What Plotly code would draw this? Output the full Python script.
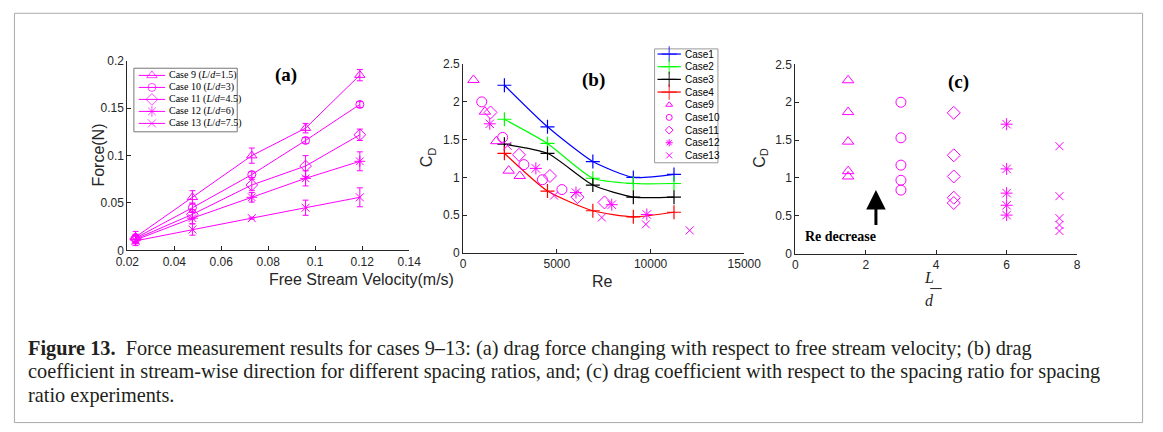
import plotly.graph_objects as go

W, H = 1163, 432
def px(x): return x / W
def py(y): return 1 - y / H

MAG = "#FF00FF"
AX = "#262626"
SANS = "Liberation Sans"
SERIF = "Liberation Serif"

# ---------------- data: panel (a) ----------------
velocity = [0.0235, 0.0477, 0.073, 0.0959, 0.119]
force9 = [0.014, 0.056, 0.100, 0.129, 0.185]
force10 = [0.013, 0.045, 0.080, 0.116, 0.154]
force11 = [0.012, 0.038, 0.069, 0.089, 0.122]
force12 = [0.011, 0.034, 0.056, 0.076, 0.094]
force13 = [0.010, 0.022, 0.034, 0.045, 0.056]
err9 = [0.006, 0.007, 0.008, 0.005, 0.006]
err10 = [0.004, 0.005, 0.003, 0.003, 0.003]
err11 = [0.004, 0.005, 0.006, 0.011, 0.006]
err12 = [0.004, 0.006, 0.005, 0.008, 0.010]
err13 = [0.005, 0.006, 0.001, 0.008, 0.010]
legend_a = ["Case 9 (<i>L</i>/<i>d</i>=1.5)", "Case 10 (<i>L</i>/<i>d</i>=3)",
            "Case 11 (<i>L</i>/<i>d</i>=4.5)", "Case 12 (<i>L</i>/<i>d</i>=6)",
            "Case 13 (<i>L</i>/<i>d</i>=7.5)"]

# ---------------- data: panel (b) ----------------
re_lines = [2200, 4500, 6920, 9080, 11250]
cd_case1 = [2.22, 1.67, 1.21, 1.00, 1.04]
cd_case2 = [1.77, 1.45, 0.99, 0.92, 0.92]
cd_case3 = [1.44, 1.32, 0.90, 0.74, 0.74]
cd_case4 = [1.32, 0.82, 0.56, 0.48, 0.54]
re9 = [550, 1160, 1770, 2430, 3020]
re10 = [990, 2110, 3240, 4230, 5270]
re11 = [1460, 2980, 4630, 6100, 7540]
re12 = [1420, 3880, 6020, 7930, 9800]
re13 = [2370, 4850, 7400, 9750, 12090]
cd9 = [2.29, 1.87, 1.48, 1.09, 1.02]
cd10 = [2.00, 1.53, 1.17, 0.97, 0.84]
cd11 = [1.86, 1.30, 1.02, 0.74, 0.67]
cd12 = [1.71, 1.12, 0.80, 0.64, 0.51]
cd13 = [1.42, 0.76, 0.47, 0.38, 0.30]

# ---------------- data: panel (c) ----------------
spacing_ratio = [1.5, 3.0, 4.5, 6.0, 7.5]

line_names = ["Case1", "Case2", "Case3", "Case4"]
line_colors = ["#0000FF", "#00FF00", "#000000", "#FF0000"]
scatter_names = ["Case9", "Case10", "Case11", "Case12", "Case13"]
symbols = ["triangle-up-open", "circle-open", "diamond-open", "asterisk-open", "x-thin-open"]
sizes_a = [9, 8, 9, 9, 8]
sizes_b = [10, 10, 10, 10, 8]

fig = go.Figure()

# panel (a)
forces = [force9, force10, force11, force12, force13]
errs = [err9, err10, err11, err12, err13]
for f, e, sym, s in zip(forces, errs, symbols, sizes_a):
    fig.add_trace(go.Scatter(
        x=velocity, y=f, mode="lines+markers", xaxis="x", yaxis="y",
        line=dict(color=MAG, width=1),
        marker=dict(symbol=sym, size=s, color=MAG, line=dict(color=MAG, width=1)),
        error_y=dict(type="data", array=e, color=MAG, thickness=1, width=3),
        showlegend=False, hoverinfo="skip"))

# panel (b)
for cd, c in zip([cd_case1, cd_case2, cd_case3, cd_case4], line_colors):
    fig.add_trace(go.Scatter(
        x=re_lines, y=cd, mode="lines+markers", xaxis="x2", yaxis="y2",
        line=dict(color=c, width=1.2, shape="spline", smoothing=0.6),
        marker=dict(symbol="cross-thin-open", size=10, color=c, line=dict(color=c, width=1.2)),
        showlegend=False, hoverinfo="skip"))
res = [re9, re10, re11, re12, re13]
cds = [cd9, cd10, cd11, cd12, cd13]
for r, cd, sym, s in zip(res, cds, symbols, sizes_b):
    fig.add_trace(go.Scatter(
        x=r, y=cd, mode="markers", xaxis="x2", yaxis="y2",
        marker=dict(symbol=sym, size=s, color=MAG, line=dict(color=MAG, width=1)),
        showlegend=False, hoverinfo="skip"))

# panel (c)
for L, cd, sym, s in zip(spacing_ratio, cds, symbols, sizes_b):
    fig.add_trace(go.Scatter(
        x=[L] * len(cd), y=cd, mode="markers", xaxis="x3", yaxis="y3",
        marker=dict(symbol=sym, size=s, color=MAG, line=dict(color=MAG, width=1)),
        showlegend=False, hoverinfo="skip"))

# ---------------- hand-built legends on a pixel overlay axis ----------------
shapes = []
annotations = []
la_x0, la_x1, la_y0, la_y1 = 125, 231, 63.3, 129
la_row0, la_step = 70.7, 12.4
shapes.append(dict(type="rect", xref="paper", yref="paper", x0=px(la_x0), x1=px(la_x1),
                   y0=py(la_y1), y1=py(la_y0), line=dict(color="#777777", width=1),
                   fillcolor="white", layer="below"))
for i, (name, sym, s) in enumerate(zip(legend_a, symbols, sizes_a)):
    yy = la_row0 + i * la_step
    fig.add_trace(go.Scatter(x=[130, 143.5, 157], y=[yy] * 3, mode="lines+markers",
                             xaxis="x4", yaxis="y4", line=dict(color=MAG, width=1),
                             marker=dict(symbol=sym, size=[0, s, 0], color=MAG,
                                         line=dict(color=MAG, width=1)),
                             showlegend=False, hoverinfo="skip"))
    annotations.append(dict(xref="paper", yref="paper", x=px(158.5), y=py(yy), text=name,
                            showarrow=False, xanchor="left", yanchor="middle",
                            font=dict(family=SERIF, size=10, color="black")))
lb_x0, lb_x1, lb_y0, lb_y1 = 659, 724, 43.3, 161
lb_row0, lb_step = 48.6, 13.1
shapes.append(dict(type="rect", xref="paper", yref="paper", x0=px(lb_x0), x1=px(lb_x1),
                   y0=py(lb_y1), y1=py(lb_y0), line=dict(color="#999999", width=1),
                   fillcolor="white", layer="below"))
for i, (name, c) in enumerate(zip(line_names, line_colors)):
    yy = lb_row0 + i * lb_step
    fig.add_trace(go.Scatter(x=[662, 674, 686], y=[yy] * 3, mode="lines+markers",
                             xaxis="x4", yaxis="y4", line=dict(color=c, width=1.2),
                             marker=dict(symbol="cross-thin-open", size=[0, 11, 0], color=c,
                                         line=dict(color=c, width=1.2)),
                             showlegend=False, hoverinfo="skip"))
    annotations.append(dict(xref="paper", yref="paper", x=px(688), y=py(yy), text=name,
                            showarrow=False, xanchor="left", yanchor="middle",
                            font=dict(family=SANS, size=10, color="black")))
for j, (name, sym) in enumerate(zip(scatter_names, symbols)):
    yy = lb_row0 + (j + 4) * lb_step
    fig.add_trace(go.Scatter(x=[674], y=[yy], mode="markers", xaxis="x4", yaxis="y4",
                             marker=dict(symbol=sym, size=6, color=MAG,
                                         line=dict(color=MAG, width=1)),
                             showlegend=False, hoverinfo="skip"))
    annotations.append(dict(xref="paper", yref="paper", x=px(688), y=py(yy), text=name,
                            showarrow=False, xanchor="left", yanchor="middle",
                            font=dict(family=SANS, size=10, color="black")))

# ---------------- axes ----------------
def axis(domain, rng, tickvals, ticktext, anchor):
    return dict(domain=domain, range=rng, tickvals=tickvals, ticktext=ticktext,
                anchor=anchor, showline=True, linecolor=AX, linewidth=1,
                ticks="inside", ticklen=4, tickcolor=AX, tickwidth=1,
                showgrid=False, zeroline=False, mirror=False, fixedrange=True,
                tickfont=dict(family=SANS, size=12, color=AX))

xa_ticks = [0.02, 0.04, 0.06, 0.08, 0.1, 0.12, 0.14]
xa_text = ["0.02", "0.04", "0.06", "0.08", "0.1", "0.12", "0.14"]
ya_ticks = [0, 0.05, 0.1, 0.15, 0.2]
ya_text = ["0", "0.05", "0.1", "0.15", "0.2"]
xb_ticks = [0, 5000, 10000, 15000]
xb_text = ["0", "5000", "10000", "15000"]
cd_ticks = [0, 0.5, 1, 1.5, 2, 2.5]
cd_text = ["0", "0.5", "1", "1.5", "2", "2.5"]
xc_ticks = [0, 2, 4, 6, 8]
xc_text = ["0", "2", "4", "6", "8"]

layout = dict(
    width=W, height=H, margin=dict(l=0, r=0, t=0, b=0),
    paper_bgcolor="white", plot_bgcolor="rgba(0,0,0,0)", showlegend=False,
    xaxis=axis([px(118.3), px(407.3)], [0.02, 0.14], xa_ticks, xa_text, "y"),
    yaxis=axis([py(251.5), py(55.7)], [0, 0.2], ya_ticks, ya_text, "x"),
    xaxis2=axis([px(462.7), px(751)], [0, 15000], xb_ticks, xb_text, "y2"),
    yaxis2=axis([py(254.3), py(59)], [0, 2.5], cd_ticks, cd_text, "x2"),
    xaxis3=axis([px(803.3), px(1092.3)], [0, 8], xc_ticks, xc_text, "y3"),
    yaxis3=axis([py(255), py(59.3)], [0, 2.5], cd_ticks, cd_text, "x3"),
    xaxis4=dict(domain=[0, 1], range=[0, W], visible=False, fixedrange=True, anchor="y4"),
    yaxis4=dict(domain=[0, 1], range=[H, 0], visible=False, fixedrange=True, anchor="x4"),
)

# axis titles
annotations += [
    dict(xref="paper", yref="paper", x=px(77), y=py(153), text="Force(N)", textangle=-90,
         showarrow=False, font=dict(family=SANS, size=16, color=AX)),
    dict(xref="paper", yref="paper", x=px(262), y=py(282), text="Free Stream Velocity(m/s)",
         showarrow=False, font=dict(family=SANS, size=16, color=AX)),
    dict(xref="paper", yref="paper", x=px(427), y=py(155), text="C<sub>D</sub>", textangle=-90,
         showarrow=False, font=dict(family=SANS, size=16, color=AX)),
    dict(xref="paper", yref="paper", x=px(606), y=py(284), text="Re",
         showarrow=False, font=dict(family=SANS, size=16, color=AX)),
    dict(xref="paper", yref="paper", x=px(768), y=py(156), text="C<sub>D</sub>", textangle=-90,
         showarrow=False, font=dict(family=SANS, size=16, color=AX)),
    dict(xref="paper", yref="paper", x=px(947.7), y=py(290), text="<i>L</i>",
         showarrow=False, yanchor="bottom", font=dict(family=SERIF, size=16, color=AX)),
    dict(xref="paper", yref="paper", x=px(947.7), y=py(292), text="<i>d</i>",
         showarrow=False, yanchor="top", font=dict(family=SERIF, size=16, color=AX)),
]
shapes.append(dict(type="line", xref="paper", yref="paper", x0=px(941.7), x1=px(953.5),
                   y0=py(291), y1=py(291), line=dict(color=AX, width=1)))

# panel labels
for lab, x, y in [("(a)", 267.7, 56.7), ("(b)", 596.7, 61.7), ("(c)", 984, 64.3)]:
    annotations.append(dict(xref="paper", yref="paper", x=px(x), y=py(y), text="<b>%s</b>" % lab,
                            showarrow=False, font=dict(family=SERIF, size=19, color="black")))

# arrow + text in (c)
annotations.append(dict(xref="x3", yref="y3", axref="x3", ayref="y3", x=2.29, y=0.84,
                        ax=2.29, ay=0.36, text="", showarrow=True, arrowhead=2,
                        arrowsize=1.3, arrowwidth=3, arrowcolor="black"))
annotations.append(dict(xref="paper", yref="paper", x=px(888.3), y=py(236.7),
                        text="<b>Re decrease</b>", showarrow=False,
                        font=dict(family=SERIF, size=14, color="black")))

# caption
caption = [
    "<b>Figure 13.</b>&nbsp;&nbsp;Force measurement results for cases 9–13: (a) drag force changing with respect to free stream velocity; (b) drag",
    "coefficient in stream-wise direction for different spacing ratios, and; (c) drag coefficient with respect to the spacing ratio for spacing",
    "ratio experiments.",
]
for k, line in enumerate(caption):
    annotations.append(dict(xref="paper", yref="paper", x=px(14), y=py(353 + 24 * k), text=line,
                            showarrow=False, xanchor="left", yanchor="middle",
                            font=dict(family=SERIF, size=20.3, color="#231f20")))

# outer frame
shapes.append(dict(type="rect", xref="paper", yref="paper", x0=px(2.5), x1=px(1159.5),
                   y0=py(429.5), y1=py(6.5), line=dict(color="#aaaaaa", width=1), layer="below"))

layout["annotations"] = annotations
layout["shapes"] = shapes
fig.update_layout(**layout)
fig.write_html("out.html")
